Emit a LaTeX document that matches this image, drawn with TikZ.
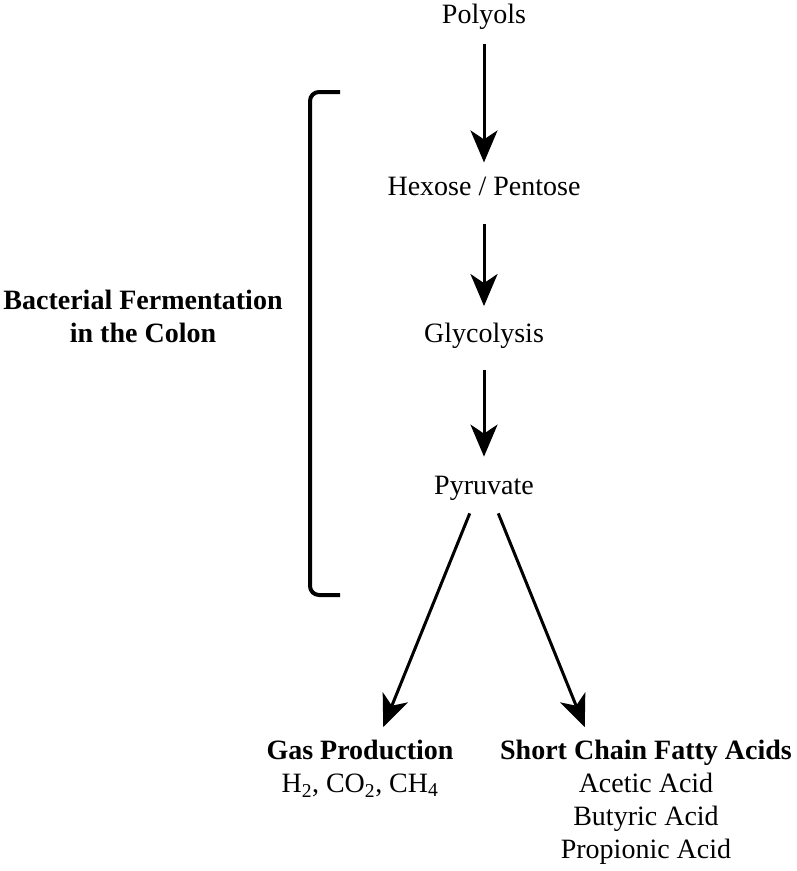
\documentclass[tikz,border=0pt]{standalone}
\usepackage{fontspec}
\setmainfont{Liberation Serif}
\usetikzlibrary{arrows.meta}

\tikzset{
	step box/.style={inner sep=0pt, font=\fontsize{28}{33}\selectfont, align=center},
	flow/.style={-{Stealth[length=32pt,width=27pt,inset=9pt]}, line width=3pt, shorten <=14pt, shorten >=14pt},
	bracket/.style={line width=4pt, rounded corners=9pt}
}

\begin{document}
\begin{tikzpicture}[x=1pt,y=-1pt]
	\useasboundingbox (0,0) rectangle (797,871);
	
	%pathway
	\node[step box] (polyols)  at (484,17)  {Polyols};
	\node[step box] (hexose)   at (484,186) {Hexose / Pentose};
	\node[step box] (glycol)   at (484,336) {Glycolysis};
	\node[step box] (pyruvate) at (484,488) {Pyruvate};
	
	%products
	\node[step box,anchor=north] (gas)  at (360,740)
		{\textbf{Gas Production}\\H\textsubscript{2}, CO\textsubscript{2}, CH\textsubscript{4}};
	\node[step box,anchor=north] (scfa) at (646,740)
		{\textbf{Short Chain Fatty Acids}\\Acetic Acid\\Butyric Acid\\Propionic Acid};
	
	%arrows
	\draw[flow] (polyols) -- (hexose);
	\draw[flow,shorten <=28pt,shorten >=17pt] (hexose) -- (glycol);
	\draw[flow,shorten <=21pt,shorten >=19pt] (glycol) -- (pyruvate);
	%
	\draw[flow] ([xshift=-9pt]pyruvate.south) -- ([xshift=18pt]gas.north);
	\draw[flow] ([xshift=9pt]pyruvate.south)  -- ([xshift=-56pt]scfa.north);
	
	%bracket
	\draw[bracket] (340,92) -- (310,92) -- (310,595) -- (340,595);
	\node[step box,font=\fontsize{28}{33}\selectfont\bfseries] (colon) at (143,316)
		{Bacterial Fermentation\\in the Colon};
\end{tikzpicture}
\end{document}
